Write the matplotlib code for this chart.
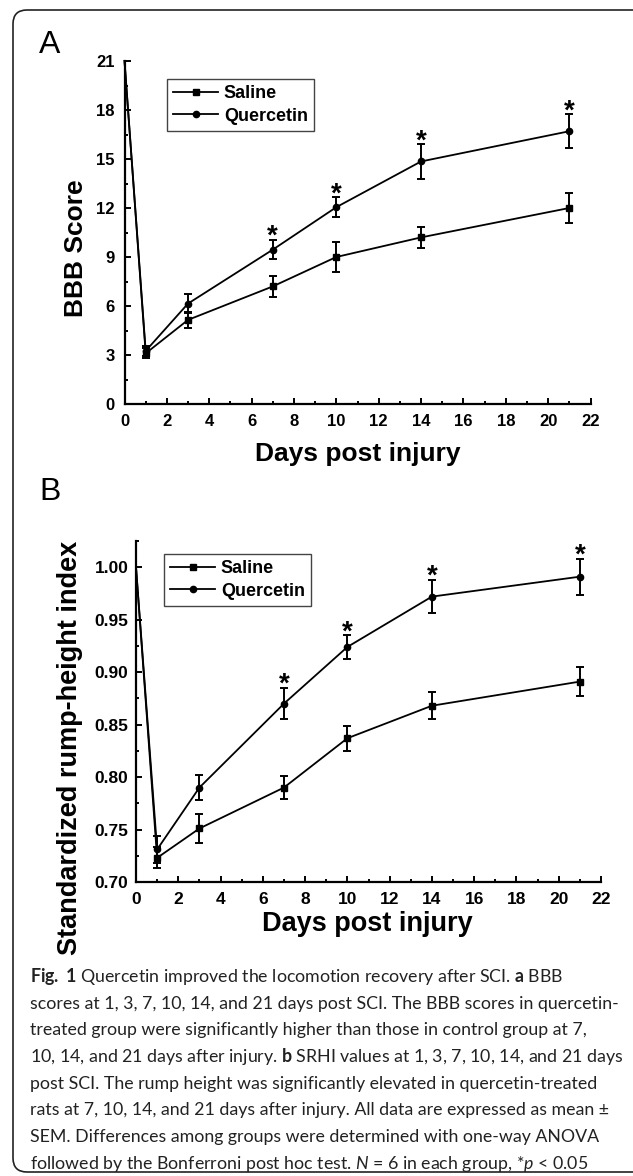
import matplotlib
matplotlib.use('Agg')
import matplotlib.pyplot as plt
from matplotlib.patches import FancyBboxPatch
from matplotlib.transforms import IdentityTransform
from matplotlib.ticker import MultipleLocator, FormatStrFormatter

plt.rcParams['font.family'] = ['Liberation Sans', 'DejaVu Sans']
plt.rcParams['mathtext.fontset'] = 'custom'
plt.rcParams['mathtext.rm'] = 'Lato'
plt.rcParams['mathtext.bf'] = 'Lato:bold'
plt.rcParams['mathtext.it'] = 'Lato:italic'

# Data
days = [0, 1, 3, 7, 10, 14, 21]

# Panel A - BBB score
bbb_saline = [21, 3.1, 5.15, 7.2, 9.0, 10.2, 12.0]
bbb_saline_err = [0, 0.3, 0.5, 0.65, 0.9, 0.65, 0.9]
bbb_querc = [21, 3.25, 6.15, 9.45, 12.05, 14.85, 16.7]
bbb_querc_err = [0, 0.3, 0.6, 0.6, 0.6, 1.05, 1.05]

# Panel B - standardized rump-height index
srhi_saline = [1.00, 0.723, 0.751, 0.790, 0.837, 0.868, 0.891]
srhi_saline_err = [0, 0.010, 0.014, 0.011, 0.012, 0.013, 0.014]
srhi_querc = [1.00, 0.731, 0.790, 0.870, 0.924, 0.972, 0.991]
srhi_querc_err = [0, 0.013, 0.012, 0.015, 0.011, 0.016, 0.017]

signif_days = [7, 10, 14, 21]

caption_lines = [
    r"$\mathbf{Fig.\ 1}$ Quercetin improved the locomotion recovery after SCI. $\mathbf{a}$ BBB",
    "scores at 1, 3, 7, 10, 14, and 21 days post SCI. The BBB scores in quercetin-",
    "treated group were significantly higher than those in control group at 7,",
    r"10, 14, and 21 days after injury. $\mathbf{b}$ SRHI values at 1, 3, 7, 10, 14, and 21 days",
    "post SCI. The rump height was significantly elevated in quercetin-treated",
    "rats at 7, 10, 14, and 21 days after injury. All data are expressed as mean ±",
    "SEM. Differences among groups were determined with one-way ANOVA",
    r"followed by the Bonferroni post hoc test. $\mathit{N}$ = 6 in each group, *$\mathit{p}$ < 0.05",
]

W, H = 633, 1176
fig = plt.figure(figsize=(W / 100, H / 100), dpi=100)

# rounded frame around the whole figure
frame = FancyBboxPatch((13, H - 1172), 700, 1162,
                       boxstyle='round,pad=0,rounding_size=14',
                       transform=IdentityTransform(), fill=False,
                       lw=1.2, ec='#222222')
fig.patches.append(frame)


def px_axes(l, t, r, b):
    return fig.add_axes([l / W, 1 - b / H, (r - l) / W, (b - t) / H])


def style_axes(ax, ymaj, ymin, ypad, xpad, size):
    for s in ['top', 'right']:
        ax.spines[s].set_visible(False)
    for s in ['left', 'bottom']:
        ax.spines[s].set_linewidth(1.6)
    ax.xaxis.set_major_locator(MultipleLocator(2))
    ax.xaxis.set_minor_locator(MultipleLocator(1))
    ax.yaxis.set_major_locator(MultipleLocator(ymaj))
    ax.yaxis.set_minor_locator(MultipleLocator(ymin))
    ax.tick_params(which='both', direction='in', width=1.4)
    ax.tick_params(which='major', length=4.5, labelsize=size)
    ax.tick_params(which='minor', length=2.5)
    ax.tick_params(axis='y', which='major', pad=ypad)
    ax.tick_params(axis='x', which='major', pad=xpad)
    for lab in ax.get_xticklabels() + ax.get_yticklabels():
        lab.set_fontweight('bold')


def draw_panel(ax, sal, sal_err, que, que_err, star_off):
    marks = list(range(1, len(days)))
    ax.plot(days, sal, '-s', color='black', lw=1.3, ms=4.5, markevery=marks,
            label='Saline', clip_on=False, zorder=3)
    ax.plot(days, que, '-o', color='black', lw=1.3, ms=4.5, markevery=marks,
            label='Quercetin', clip_on=False, zorder=3)
    ax.errorbar(days[1:], sal[1:], yerr=sal_err[1:], fmt='none', ecolor='black',
                elinewidth=1.4, capsize=3.2, capthick=1.4, zorder=3)
    ax.errorbar(days[1:], que[1:], yerr=que_err[1:], fmt='none', ecolor='black',
                elinewidth=1.4, capsize=3.2, capthick=1.4, zorder=3)
    for d in signif_days:
        i = days.index(d)
        ax.annotate('*', (d, que[i] + que_err[i]), xytext=(0, star_off),
                    textcoords='offset points', ha='center', va='baseline',
                    fontsize=20, fontweight='bold')


def add_legend(ax, anchor):
    leg = ax.legend(loc='upper left', bbox_to_anchor=anchor, borderaxespad=0,
                    prop={'weight': 'bold', 'size': 13}, handlelength=2.5,
                    handletextpad=0.3, labelspacing=0.3, borderpad=0.35,
                    fancybox=False, edgecolor='#444444', framealpha=1)
    leg.get_frame().set_linewidth(1.0)


# ---------- Panel A ----------
axA = px_axes(124.5, 61, 590.5, 404)
draw_panel(axA, bbb_saline, bbb_saline_err, bbb_querc, bbb_querc_err, -3)
axA.set_xlim(0, 22)
axA.set_ylim(0, 21)
style_axes(axA, 3, 1.5, 7, 7, 12)
add_legend(axA, (0.091, 0.9475))

fig.text(39 / W, 1 - 53 / H, 'A', fontsize=23, va='baseline', ha='left')
fig.text(358 / W, 1 - 461 / H, 'Days post injury', fontsize=19, fontweight='bold',
         ha='center', va='baseline')
fig.text(83 / W, 1 - 248.5 / H, 'BBB Score', fontsize=19, fontweight='bold',
         rotation=90, rotation_mode='anchor', ha='center', va='baseline')

# ---------- Panel B ----------
axB = px_axes(136, 541, 601, 882)
draw_panel(axB, srhi_saline, srhi_saline_err, srhi_querc, srhi_querc_err, -3)
axB.set_xlim(0, 22)
axB.set_ylim(0.70, 1.025)
axB.yaxis.set_major_formatter(FormatStrFormatter('%.2f'))
style_axes(axB, 0.05, 0.025, 5.5, 7, 12.5)
add_legend(axB, (0.060, 0.962))

fig.text(39 / W, 1 - 500 / H, 'B', fontsize=23, va='baseline', ha='left')
fig.text(367 / W, 1 - 931 / H, 'Days post injury', fontsize=19.5, fontweight='bold',
         ha='center', va='baseline')
fig.text(77 / W, 1 - 748 / H, 'Standardized rump-height index', fontsize=19.5,
         fontweight='bold', rotation=90, rotation_mode='anchor', ha='center', va='baseline')

# ---------- Caption ----------
for k, line in enumerate(caption_lines):
    fig.text(30 / W, 1 - (982 + k * 26.7) / H, line, fontsize=12.8, family='Lato',
             color='#222222', ha='left', va='baseline')

fig.savefig('out.png', dpi=100)
